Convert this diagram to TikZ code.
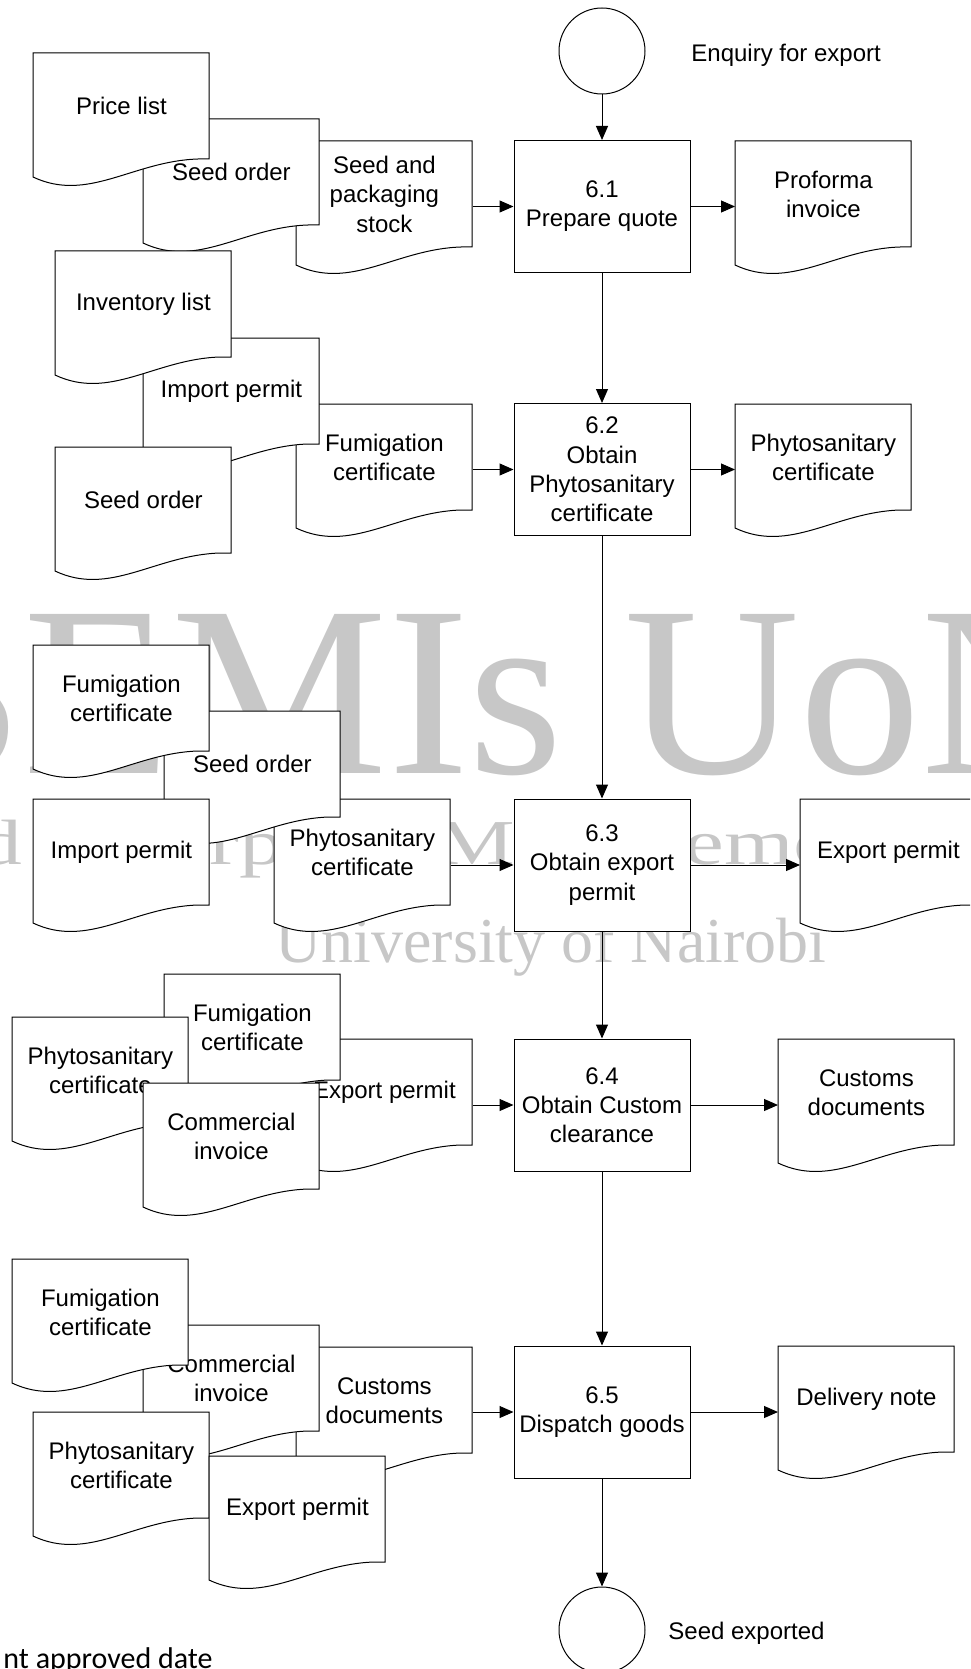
\documentclass[tikz,border=0pt]{standalone}
\usepackage{fontspec}
\setmainfont{Liberation Sans}
\newfontfamily\wmfont{Liberation Serif}
\newfontfamily\notefont{Carlito}
\usetikzlibrary{arrows.meta}
\newcommand{\docfont}{\fontsize{12pt}{14.6pt}\selectfont}
\newcommand{\docshape}[3]{%
    \draw[docline,shift={(#2)}] (0,0)--(176,0)--(176,106)--(165,106)
        .. controls (100,108) and (55,150) .. (0,124)--cycle;
    \node[doctext] (#1) at (#2) {#3};
}
\tikzset{
    docline/.style={fill=white,line width=0.5pt},
    doctext/.style={anchor=north west,minimum width=88pt,minimum height=53pt,inner sep=0pt,align=center,font=\docfont},
    procbox/.style={draw,fill=white,line width=0.5pt,minimum width=88pt,minimum height=66pt,inner sep=0pt,align=center,font=\docfont},
    termcirc/.style={draw,circle,fill=white,line width=0.5pt,minimum size=43pt,inner sep=0pt},
    flow/.style={-{Triangle[length=7pt,width=6pt]},line width=0.5pt},
    wmark/.style={text=black!22,inner sep=0pt,anchor=base west},
    plainlbl/.style={anchor=base west,inner sep=0pt,font=\docfont},
}

\begin{document}
\begin{tikzpicture}[x=0.5pt,y=-0.5pt]
            \useasboundingbox (0,0) rectangle (970,1669);
            \clip (0,0) rectangle (970,1669);

            \node[wmark,font=\wmfont\fontsize{121.5pt}{121.5pt}\selectfont] (wm1) at (-112,773) {SEMIs UoN};
            \node[wmark,font=\wmfont\fontsize{32pt}{32pt}\selectfont] (wm2) at (-152,864) {\scalebox{1.4}[1]{Seed Enterprise Management}};
            \node[wmark,font=\wmfont\fontsize{32pt}{32pt}\selectfont] (wm3) at (275,962) {University of Nairobi};

            \docshape{sps}{296,141}{Seed and\\packaging\\stock}
            \docshape{so1}{143,119}{Seed order}
            \docshape{pl1}{33,53}{Price list}

            \docshape{fc2}{296,404}{Fumigation\\certificate}
            \docshape{ip2}{143,338}{Import permit}
            \docshape{il2}{55,251}{Inventory list}
            \docshape{so2}{55,447}{Seed order}

            \docshape{pc3}{274,799}{Phytosanitary\\certificate}
            \docshape{so3}{164,711}{Seed order}
            \docshape{fc3}{33,645}{Fumigation\\certificate}
            \docshape{ip3}{33,799}{Import permit}

            \docshape{ep4}{296,1039}{Export permit}
            \docshape{fc4}{164,974}{Fumigation\\certificate}
            \docshape{pc4}{12,1017}{Phytosanitary\\certificate}
            \docshape{ci4}{143,1083}{Commercial\\invoice}

            \docshape{cd5}{296,1347}{Customs\\documents}
            \docshape{ci5}{143,1325}{Commercial\\invoice}
            \docshape{fc5}{12,1259}{Fumigation\\certificate}
            \docshape{pc5}{33,1412}{Phytosanitary\\certificate}
            \docshape{ep5}{209,1456}{Export permit}

            \docshape{pf}{735,141}{Proforma\\invoice}
            \docshape{pco}{735,404}{Phytosanitary\\certificate}
            \docshape{epo}{800,799}{Export permit}
            \docshape{cdo}{778,1039}{Customs\\documents}
            \docshape{dn}{778,1346}{Delivery note}

            \node[termcirc] (start) at (602,51) {};
            \node[plainlbl] (enq) at (691,62) {Enquiry for export};
            \node[procbox] (p61) at (602,206.5) {6.1\\Prepare quote};
            \node[procbox] (p62) at (602,469.5) {6.2\\Obtain\\Phytosanitary\\certificate};
            \node[procbox] (p63) at (602,865) {6.3\\Obtain export\\permit};
            \node[procbox] (p64) at (602,1105) {6.4\\Obtain Custom\\clearance};
            \node[procbox] (p65) at (602,1412) {6.5\\Dispatch goods};
            \node[termcirc] (finish) at (602,1630) {};
            \node[plainlbl] (done) at (668,1639) {Seed exported};

            \draw[flow] (start)--(p61);
            \draw[flow] (p61)--(p62);
            \draw[flow] (p62)--(p63);
            \draw[flow] (p63)--(p64);
            \draw[flow] (p64)--(p65);
            \draw[flow] (p65)--(finish);

            \draw[flow] (sps.east |- p61)--(p61);
            \draw[flow] (fc2.east |- p62)--(p62);
            \draw[flow] (pc3.east |- p63)--(p63);
            \draw[flow] (ep4.east |- p64)--(p64);
            \draw[flow] (cd5.east |- p65)--(p65);

            \draw[flow] (p61)--(pf.west |- p61);
            \draw[flow] (p62)--(pco.west |- p62);
            \draw[flow] (p63)--(epo.west |- p63);
            \draw[flow] (p64)--(cdo.west |- p64);
            \draw[flow] (p65)--(dn.west |- p65);

            \node[anchor=base east,inner sep=0pt,font=\notefont\fontsize{15pt}{18pt}\selectfont] (note) at (213,1668) {nt approved date};
        \end{tikzpicture}
\end{document}
